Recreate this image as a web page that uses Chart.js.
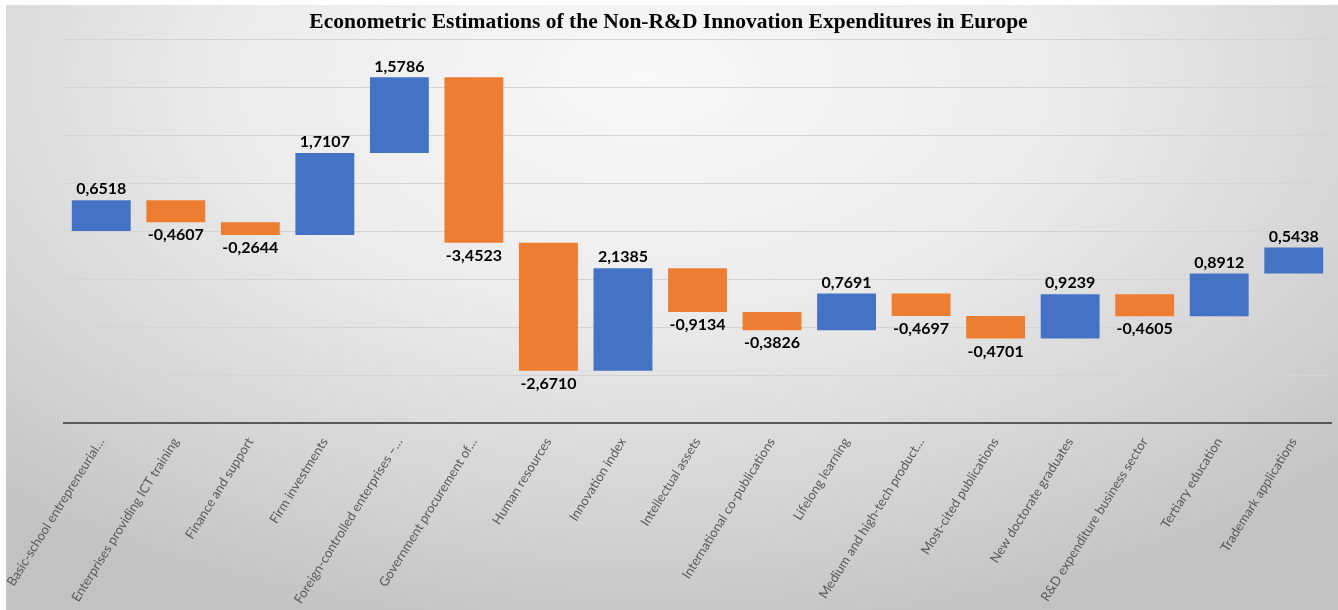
<!DOCTYPE html>
<html>
<head>
<meta charset="utf-8">
<script src="https://cdn.jsdelivr.net/npm/chart.js@4.4.1/dist/chart.umd.min.js"></script>
<style>
  html, body { margin: 0; padding: 0; background: #fff; }
  #wrap {
    position: absolute; left: 6px; top: 5px; width: 1332px; height: 605px;
    background: radial-gradient(ellipse 75% 95% at 48% 12%, #f8f8f8 0%, #ececec 40%, #d4d4d4 75%, #c2c2c2 100%);
  }
</style>
</head>
<body>
<div id="wrap"><canvas id="chart" width="1332" height="605"></canvas></div>
<script>
// categories and estimated effects (waterfall steps)
const categories = [
  "Basic-school entrepreneurial…",
  "Enterprises providing ICT training",
  "Finance and support",
  "Firm investments",
  "Foreign-controlled enterprises –…",
  "Government procurement of…",
  "Human resources",
  "Innovation index",
  "Intellectual assets",
  "International co-publications",
  "Lifelong learning",
  "Medium and high-tech product…",
  "Most-cited publications",
  "New doctorate graduates",
  "R&D expenditure business sector",
  "Tertiary education",
  "Trademark applications"
];
const values = [0.6518, -0.4607, -0.2644, 1.7107, 1.5786, -3.4523, -2.6710, 2.1385,
  -0.9134, -0.3826, 0.7691, -0.4697, -0.4701, 0.9239, -0.4605, 0.8912, 0.5438];
const yTicks = [-4, -3, -2, -1, 0, 1, 2, 3, 4];

const blue = "#4472C4";
const orange = "#ED7D31";

// floating bars: each step starts where the previous one ended
let running = 0;
const ranges = values.map(v => {
  const start = running;
  running += v;
  return [start, running];
});

const fmt = v => v.toFixed(4).replace(".", ",");

const valueLabels = {
  id: "valueLabels",
  afterDatasetsDraw(chart) {
    const ctx = chart.ctx;
    const meta = chart.getDatasetMeta(0);
    ctx.save();
    ctx.font = "bold 16px Lato";
    ctx.fillStyle = "#000";
    ctx.textAlign = "center";
    meta.data.forEach((bar, i) => {
      const v = values[i];
      const top = Math.min(bar.y, bar.base);
      const bottom = Math.max(bar.y, bar.base);
      if (v >= 0) {
        ctx.textBaseline = "bottom";
        ctx.fillText(fmt(v), bar.x, top - 3);
      } else {
        ctx.textBaseline = "top";
        ctx.fillText(fmt(v), bar.x, bottom + 5);
      }
    });
    ctx.restore();
  }
};

new Chart(document.getElementById("chart"), {
  type: "bar",
  data: {
    labels: categories,
    datasets: [{
      data: ranges,
      backgroundColor: values.map(v => v >= 0 ? blue : orange),
      borderWidth: 0,
      barPercentage: 0.79,
      categoryPercentage: 1
    }]
  },
  options: {
    responsive: false,
    animation: false,
    layout: { padding: { left: 0, right: 7, top: 0, bottom: 0 } },
    plugins: {
      legend: { display: false },
      tooltip: { enabled: false },
      title: {
        display: true,
        text: "Econometric Estimations of the Non-R&D Innovation Expenditures in Europe",
        color: "#000",
        font: { family: "Liberation Serif", size: 21.5, weight: "bold" },
        padding: { top: 5, bottom: 4 }
      }
    },
    scales: {
      x: {
        grid: { display: false },
        border: { display: true, color: "#595959", width: 2 },
        ticks: {
          color: "#595959",
          font: { family: "Lato", size: 13 },
          minRotation: 58,
          maxRotation: 58,
          autoSkip: false,
          padding: 4
        },
        afterFit(scale) {
          scale.height = 187;
          scale.paddingLeft = 0;
          scale.paddingRight = 0;
        }
      },
      y: {
        min: -4,
        max: 4,
        afterBuildTicks(scale) { scale.ticks = yTicks.map(v => ({ value: v })); },
        grid: { color: "#d4d4d4", lineWidth: 1, drawTicks: false },
        border: { display: false },
        ticks: { display: false },
        afterFit(scale) { scale.width = 58; }
      }
    }
  },
  plugins: [valueLabels]
});
</script>
</body>
</html>
